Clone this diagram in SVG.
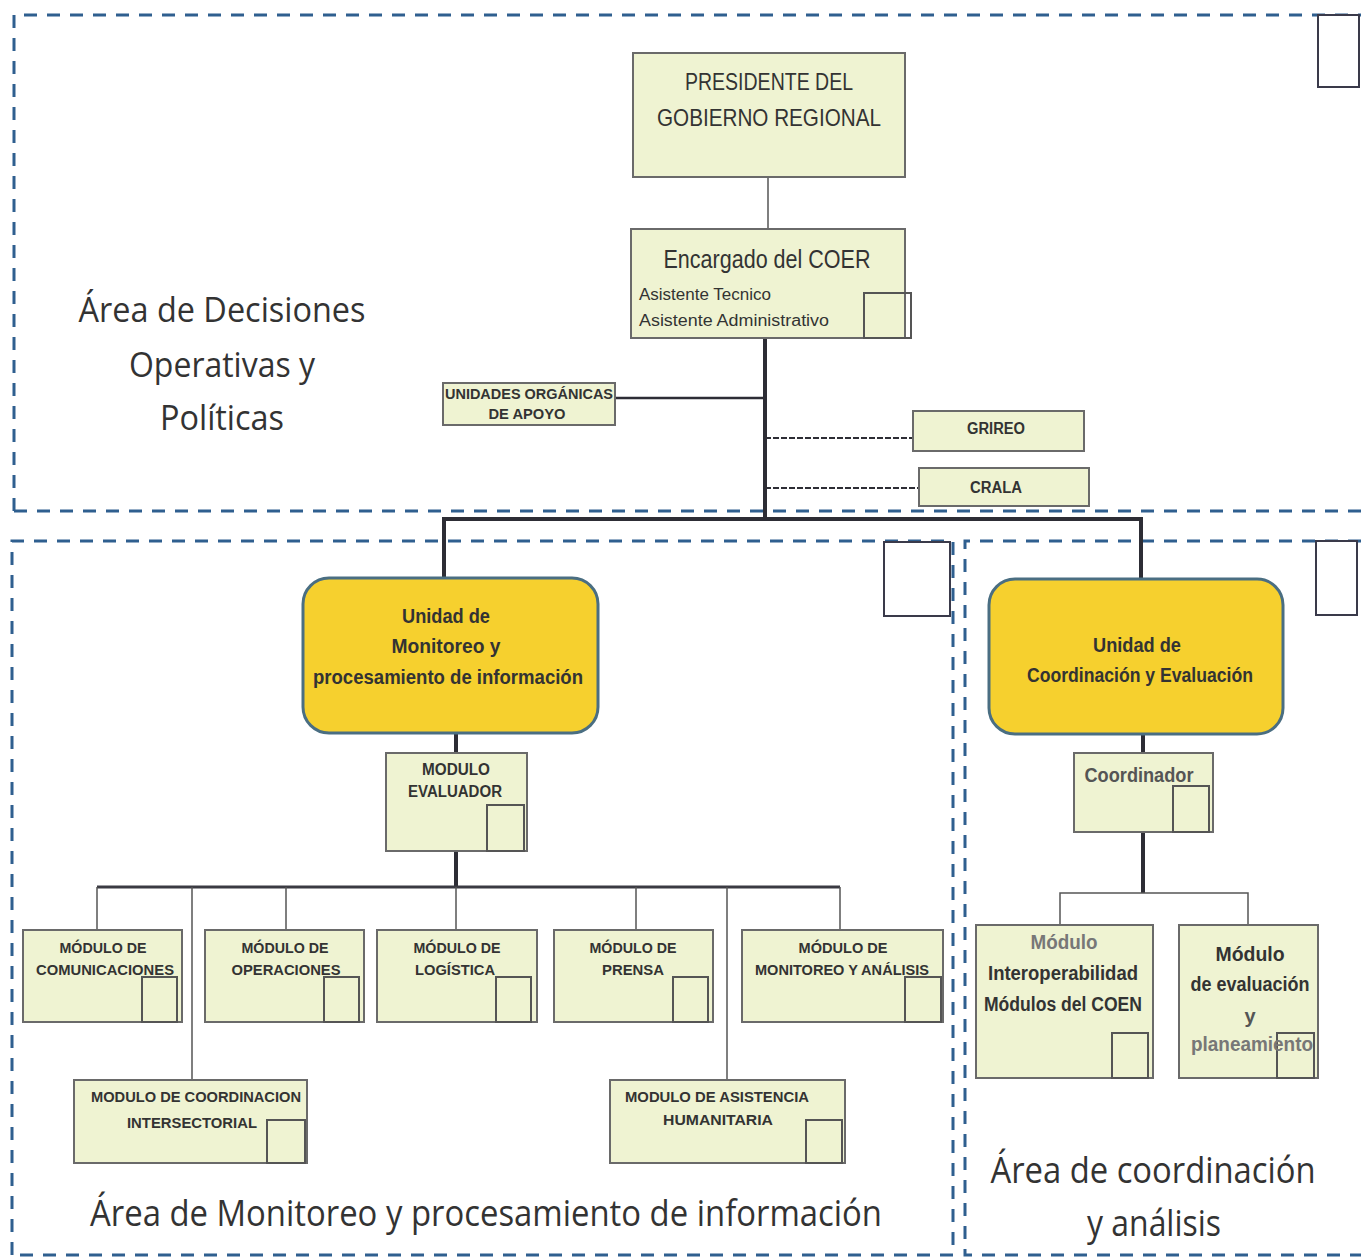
<svg xmlns="http://www.w3.org/2000/svg" width="1361" height="1259" viewBox="0 0 1361 1259">
<style>
.area{fill:none;stroke:#2f5f8f;stroke-width:3;stroke-dasharray:13 10}
.box{fill:#eff3d2;stroke:#6a6a6a;stroke-width:2}
.sq{fill:none;stroke:#555;stroke-width:2}
.wsq{fill:#fff;stroke:#3a3a4a;stroke-width:2}
.unit{fill:#f6d02e;stroke:#4a6e82;stroke-width:3}
.t{font-family:"Liberation Sans",Arial,sans-serif;fill:#333;text-anchor:middle}
.b{font-weight:bold}
.big{font-family:"Open Sans","Liberation Sans",sans-serif;fill:#333;text-anchor:middle}
.thick{stroke:#2d2d35;stroke-width:4;fill:none}
.thin{stroke:#555;stroke-width:1.5;fill:none}
.dash{stroke:#2d2d35;stroke-width:2;stroke-dasharray:6 2;fill:none}
</style>
<rect width="1361" height="1259" fill="#fff"/>
<g id="areas">
<path class="area" d="M14 511 V15 H1361"/>
<path class="area" d="M14 511 H1361"/>
<path class="area" d="M12 1255 V541 H953 V1255 Z"/>
<path class="area" d="M1361 541 H965 V1255 H1361"/>
<rect class="wsq" x="1318" y="15" width="41" height="72"/>
<rect class="wsq" x="884" y="542" width="66" height="74"/>
<rect class="wsq" x="1316" y="541" width="41" height="74"/>
</g>
<g id="area-labels">
<text class="big" font-size="35" x="222" y="322" textLength="287" lengthAdjust="spacingAndGlyphs">Área de Decisiones</text>
<text class="big" font-size="35" x="222" y="377" textLength="186" lengthAdjust="spacingAndGlyphs">Operativas y</text>
<text class="big" font-size="35" x="222" y="430" textLength="124" lengthAdjust="spacingAndGlyphs">Políticas</text>
<text class="big" font-size="37" x="486" y="1226" textLength="792" lengthAdjust="spacingAndGlyphs">Área de Monitoreo y procesamiento de información</text>
<text class="big" font-size="37" x="1153" y="1183" textLength="325" lengthAdjust="spacingAndGlyphs">Área de coordinación</text>
<text class="big" font-size="37" x="1154" y="1236" textLength="134" lengthAdjust="spacingAndGlyphs">y análisis</text>
</g>
<g id="connectors">
<line class="thin" x1="768" y1="177" x2="768" y2="229" stroke="#9aa"/>
<line class="thick" x1="765" y1="338" x2="765" y2="521"/>
<line x1="615" y1="398" x2="765" y2="398" stroke="#2d2d35" stroke-width="2.5"/>
<line class="dash" x1="765" y1="438" x2="913" y2="438"/>
<line class="dash" x1="765" y1="488" x2="919" y2="488"/>
<path class="thick" stroke-width="5" d="M444 580 V519 H1141 V579"/>
<line class="thick" x1="456" y1="733" x2="456" y2="753"/>
<line class="thick" x1="456" y1="851" x2="456" y2="886"/>
<line x1="97" y1="887" x2="840" y2="887" stroke="#3a3a42" stroke-width="3"/>
<path class="thin" d="M97 887 V930 M192 887 V1080 M286 887 V930 M456 887 V930 M636 887 V930 M727 887 V1080 M840 887 V930"/>
<line class="thick" x1="1143" y1="734" x2="1143" y2="753"/>
<line class="thick" x1="1143" y1="832" x2="1143" y2="893"/>
<path class="thin" d="M1060 925 V893 H1248 V925"/>
</g>
<g id="n-presidente">
<rect class="box" x="633" y="53" width="272" height="124"/>
<text class="t" font-size="24" x="769" y="90" textLength="168" lengthAdjust="spacingAndGlyphs">PRESIDENTE DEL</text>
<text class="t" font-size="24" x="769" y="126" textLength="224" lengthAdjust="spacingAndGlyphs">GOBIERNO REGIONAL</text>
</g>
<g id="n-encargado">
<rect class="box" x="631" y="229" width="274" height="109"/>
<rect class="sq" x="864" y="293" width="47" height="45"/>
<text class="t" font-size="26" x="767" y="268" textLength="207" lengthAdjust="spacingAndGlyphs">Encargado del COER</text>
<text class="t" font-size="16" x="639" y="300" style="text-anchor:start" textLength="132" lengthAdjust="spacingAndGlyphs">Asistente Tecnico</text>
<text class="t" font-size="16" x="639" y="326" style="text-anchor:start" textLength="190" lengthAdjust="spacingAndGlyphs">Asistente  Administrativo</text>
</g>
<g id="n-unidades">
<rect class="box" x="443" y="383" width="172" height="42"/>
<text class="t b" font-size="15" x="529" y="399" textLength="168" lengthAdjust="spacingAndGlyphs">UNIDADES ORGÁNICAS</text>
<text class="t b" font-size="15" x="527" y="419" textLength="77" lengthAdjust="spacingAndGlyphs">DE APOYO</text>
</g>
<g id="n-grireo">
<rect class="box" x="913" y="411" width="171" height="40"/>
<text class="t b" font-size="16" x="996" y="434" textLength="58" lengthAdjust="spacingAndGlyphs">GRIREO</text>
</g>
<g id="n-crala">
<rect class="box" x="919" y="468" width="170" height="38"/>
<text class="t b" font-size="16" x="996" y="493" textLength="52" lengthAdjust="spacingAndGlyphs">CRALA</text>
</g>
<g id="n-unidad-monitoreo">
<rect class="unit" x="303" y="578" width="295" height="155" rx="26"/>
<text class="t b" font-size="20" x="446" y="623" textLength="88" lengthAdjust="spacingAndGlyphs">Unidad de</text>
<text class="t b" font-size="20" x="446" y="653" textLength="109" lengthAdjust="spacingAndGlyphs">Monitoreo y</text>
<text class="t b" font-size="20" x="448" y="684" textLength="270" lengthAdjust="spacingAndGlyphs">procesamiento de información</text>
</g>
<g id="n-unidad-coordinacion">
<rect class="unit" x="989" y="579" width="294" height="155" rx="26"/>
<text class="t b" font-size="20" x="1137" y="652" textLength="88" lengthAdjust="spacingAndGlyphs">Unidad de</text>
<text class="t b" font-size="20" x="1140" y="682" textLength="226" lengthAdjust="spacingAndGlyphs">Coordinación y Evaluación</text>
</g>
<g id="n-evaluador">
<rect class="box" x="386" y="753" width="141" height="98"/>
<rect class="sq" x="487" y="805" width="37" height="46"/>
<text class="t b" font-size="16" x="456" y="775" textLength="68" lengthAdjust="spacingAndGlyphs">MODULO</text>
<text class="t b" font-size="16" x="455" y="797" textLength="94" lengthAdjust="spacingAndGlyphs">EVALUADOR</text>
</g>
<g id="n-coordinador">
<rect class="box" x="1074" y="753" width="139" height="79"/>
<rect class="sq" x="1173" y="786" width="36" height="46"/>
<text class="t b" font-size="20" x="1139" y="782" style="fill:#555" textLength="109" lengthAdjust="spacingAndGlyphs">Coordinador</text>
</g>
<g id="n-comunicaciones">
<rect class="box" x="23" y="930" width="159" height="92"/>
<rect class="sq" x="142" y="977" width="35" height="45"/>
<text class="t b" font-size="15" x="103" y="953" textLength="87" lengthAdjust="spacingAndGlyphs">MÓDULO DE</text>
<text class="t b" font-size="15" x="105" y="975" textLength="138" lengthAdjust="spacingAndGlyphs">COMUNICACIONES</text>
</g>
<g id="n-operaciones">
<rect class="box" x="205" y="930" width="159" height="92"/>
<rect class="sq" x="324" y="977" width="35" height="45"/>
<text class="t b" font-size="15" x="285" y="953" textLength="87" lengthAdjust="spacingAndGlyphs">MÓDULO DE</text>
<text class="t b" font-size="15" x="286" y="975" textLength="109" lengthAdjust="spacingAndGlyphs">OPERACIONES</text>
</g>
<g id="n-logistica">
<rect class="box" x="377" y="930" width="160" height="92"/>
<rect class="sq" x="496" y="977" width="35" height="45"/>
<text class="t b" font-size="15" x="457" y="953" textLength="87" lengthAdjust="spacingAndGlyphs">MÓDULO DE</text>
<text class="t b" font-size="15" x="455" y="975" textLength="80" lengthAdjust="spacingAndGlyphs">LOGÍSTICA</text>
</g>
<g id="n-prensa">
<rect class="box" x="554" y="930" width="159" height="92"/>
<rect class="sq" x="673" y="977" width="35" height="45"/>
<text class="t b" font-size="15" x="633" y="953" textLength="87" lengthAdjust="spacingAndGlyphs">MÓDULO DE</text>
<text class="t b" font-size="15" x="633" y="975" textLength="62" lengthAdjust="spacingAndGlyphs">PRENSA</text>
</g>
<g id="n-monitoreo-analisis">
<rect class="box" x="742" y="930" width="201" height="92"/>
<rect class="sq" x="905" y="977" width="36" height="45"/>
<text class="t b" font-size="15" x="843" y="953" textLength="89" lengthAdjust="spacingAndGlyphs">MÓDULO DE</text>
<text class="t b" font-size="15" x="842" y="975" textLength="174" lengthAdjust="spacingAndGlyphs">MONITOREO Y ANÁLISIS</text>
</g>
<g id="n-intersectorial">
<rect class="box" x="74" y="1080" width="233" height="83"/>
<rect class="sq" x="267" y="1120" width="38" height="43"/>
<text class="t b" font-size="15" x="196" y="1102" textLength="210" lengthAdjust="spacingAndGlyphs">MODULO DE COORDINACION</text>
<text class="t b" font-size="15" x="192" y="1128" textLength="130" lengthAdjust="spacingAndGlyphs">INTERSECTORIAL</text>
</g>
<g id="n-asistencia">
<rect class="box" x="610" y="1080" width="235" height="83"/>
<rect class="sq" x="806" y="1120" width="36" height="43"/>
<text class="t b" font-size="15" x="717" y="1102" textLength="184" lengthAdjust="spacingAndGlyphs">MODULO DE ASISTENCIA</text>
<text class="t b" font-size="15" x="718" y="1125" textLength="110" lengthAdjust="spacingAndGlyphs">HUMANITARIA</text>
</g>
<g id="n-interoperabilidad">
<rect class="box" x="976" y="925" width="177" height="153"/>
<rect class="sq" x="1112" y="1033" width="36" height="45"/>
<text class="t b" font-size="20" x="1064" y="949" style="fill:#777" textLength="67" lengthAdjust="spacingAndGlyphs">Módulo</text>
<text class="t b" font-size="20" x="1063" y="980" textLength="150" lengthAdjust="spacingAndGlyphs">Interoperabilidad</text>
<text class="t b" font-size="20" x="1063" y="1011" textLength="158" lengthAdjust="spacingAndGlyphs">Módulos del COEN</text>
</g>
<g id="n-evaluacion">
<rect class="box" x="1179" y="925" width="139" height="153"/>
<rect class="sq" x="1277" y="1033" width="37" height="45"/>
<text class="t b" font-size="20" x="1250" y="961" textLength="69" lengthAdjust="spacingAndGlyphs">Módulo</text>
<text class="t b" font-size="20" x="1250" y="991" textLength="119" lengthAdjust="spacingAndGlyphs">de evaluación</text>
<text class="t b" font-size="20" x="1250" y="1023" style="fill:#555">y</text>
<text class="t b" font-size="20" x="1252" y="1051" style="fill:#777" textLength="122" lengthAdjust="spacingAndGlyphs">planeamiento</text>
</g>
</svg>
